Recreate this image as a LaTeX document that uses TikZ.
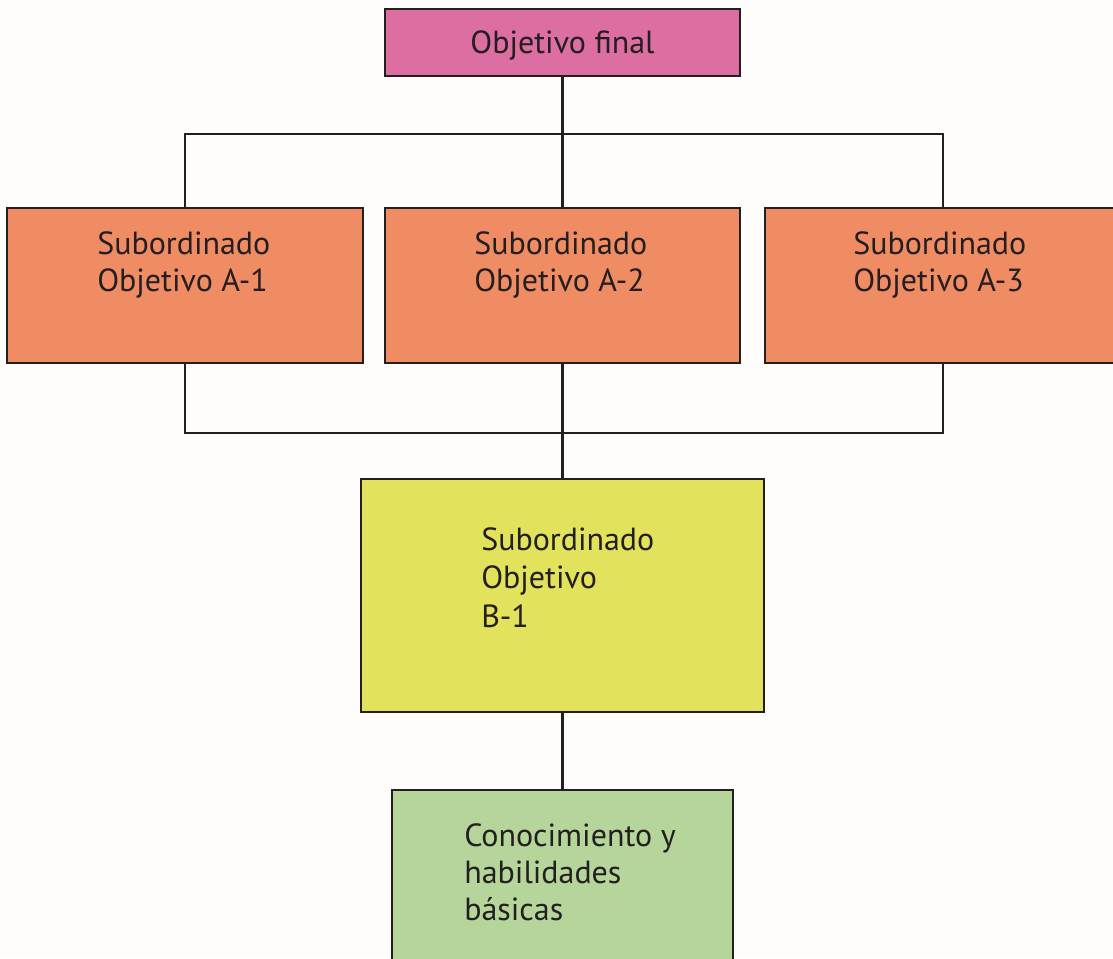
\documentclass[tikz,border=0pt]{standalone}
\usepackage{fontspec}
\setmainfont{PT Sans}
\usepackage{tikz}

\begin{document}
\begin{tikzpicture}[x=0.75pt,y=0.75pt,yscale=-1,xscale=1,
  box/.style={draw={rgb, 255:red, 35; green, 31; blue, 32 },line width=1.6pt,rectangle,inner sep=0pt},
  wire/.style={draw={rgb, 255:red, 35; green, 31; blue, 32 },line width=1.6pt},
  txt/.style={anchor=north west,inner sep=0pt,align=left,text={rgb, 255:red, 35; green, 31; blue, 32 },font=\fontsize{24}{28}\selectfont}]
%set diagram left start at 0, and has height of 958
\path[use as bounding box, fill={rgb, 255:red, 254; green, 253; blue, 251 }] (0,0) rectangle (1113,958);
\clip (0,0) rectangle (1113,958);

%Shape: Rectangle [top]
\node[box, fill={rgb, 255:red, 220; green, 110; blue, 162 }, minimum width=266.25pt, minimum height=50.25pt, text depth=0pt, text={rgb, 255:red, 35; green, 31; blue, 32 }, font=\fontsize{24}{28}\selectfont] (final) at (562.5,42.5) {Objetivo final};
%Shape: Rectangle [A-1]
\node[box, fill={rgb, 255:red, 240; green, 140; blue, 100 }, minimum width=267pt, minimum height=116.25pt] (subA1) at (185,285.5) {};
%Shape: Rectangle [A-2]
\node[box, fill={rgb, 255:red, 240; green, 140; blue, 100 }, minimum width=266.25pt, minimum height=116.25pt] (subA2) at (562.5,285.5) {};
%Shape: Rectangle [A-3]
\node[box, fill={rgb, 255:red, 240; green, 140; blue, 100 }, minimum width=267pt, minimum height=116.25pt] (subA3) at (943,285.5) {};
%Shape: Rectangle [B-1]
\node[box, fill={rgb, 255:red, 226; green, 226; blue, 92 }, minimum width=302.25pt, minimum height=174.75pt] (subB) at (562.5,595.5) {};
%Shape: Rectangle [basic]
\node[box, fill={rgb, 255:red, 181; green, 213; blue, 154 }, minimum width=255.75pt, minimum height=135pt] (basic) at (562.5,880) {};

%Straight Lines [buses]
\coordinate (busA) at (562.5,134);
\coordinate (busB) at (562.5,433);
\draw[wire] (final.south) -- (busA);
\draw[wire] (subA1.north) -- (subA1.north |- busA) -- (subA3.north |- busA) -- (subA3.north);
\draw[wire] (busA) -- (subA2.north);
\draw[wire] (subA1.south) -- (subA1.south |- busB) -- (subA3.south |- busB) -- (subA3.south);
\draw[wire] (subA2.south) -- (subB.north);
\draw[wire] (subB.south) -- (basic.north);

% Text Node
\node[txt] (tA1) at (97,231) {Subordinado\\Objetivo A-1};
% Text Node
\node[txt] (tA2) at (474,231) {Subordinado\\Objetivo A-2};
% Text Node
\node[txt] (tA3) at (853,231) {Subordinado\\Objetivo A-3};
% Text Node
\node[txt, font=\fontsize{24}{29}\selectfont] (tB) at (481,527) {Subordinado\\Objetivo\\B-1};
% Text Node
\node[txt] (tC) at (464,823) {Conocimiento y\\habilidades\\básicas};

\end{tikzpicture}
\end{document}
